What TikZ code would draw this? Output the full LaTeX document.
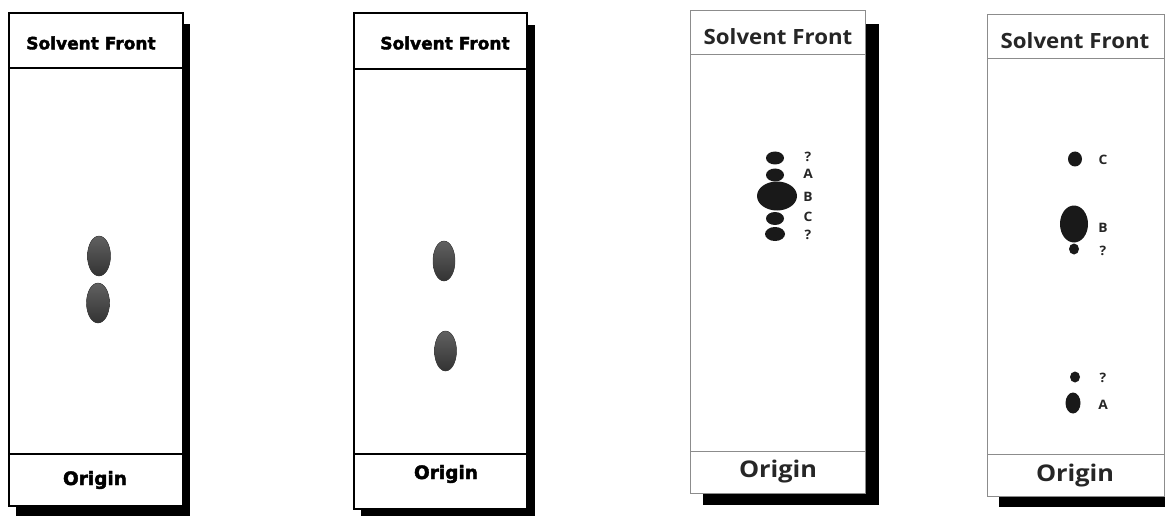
\documentclass[tikz,border=0pt]{standalone}
\usepackage{fontspec}
\newfontfamily\heavyfont{DejaVu Sans}[BoldFeatures={FakeBold=2.2}]
\newfontfamily\platefont{Open Sans}[FakeStretch=1.06]
\newfontfamily\widefont{Open Sans}[FakeStretch=1.1]
\begin{document}
\begin{tikzpicture}[x=1pt,y=-1pt]
\tikzset{
  oldplate/.style={draw=black, line width=1.4pt, fill=white},
  newplate/.style={draw=black!45, line width=1pt, fill=white},
  shadowbox/.style={fill=black},
  oldtitle/.style={font=\heavyfont\bfseries\fontsize{17}{17}\selectfont, inner sep=0pt},
  oldorigin/.style={font=\heavyfont\bfseries\fontsize{18.5}{18.5}\selectfont, inner sep=0pt},
  newtitle/.style={font=\platefont\bfseries\fontsize{21}{21}\selectfont, inner sep=0pt, text=black!85},
  neworigin/.style={font=\widefont\bfseries\fontsize{23}{23}\selectfont, inner sep=0pt, text=black!85},
  spotlabel/.style={font=\platefont\bfseries\fontsize{13}{13}\selectfont, inner sep=0pt, text=black!85},
  oldspot/.style={top color=black!62, bottom color=black!80, draw=black!75, line width=0.4pt},
  newspot/.style={fill=black!90},
}
\useasboundingbox (0,0) rectangle (1165,516);
\clip (0,0) rectangle (1165,516);

% ---- plate 1 ----
\fill[shadowbox] (16,24) rectangle (190,517);
\draw[oldplate] (9,13) rectangle (183,506);
\draw[line width=1.4pt] (9,68) -- (183,68);
\draw[line width=1.4pt] (9,454) -- (183,454);
\node[oldtitle] (front1) at (91,43) {Solvent Front};
\node[oldorigin] (origin1) at (95,480) {Origin};
\fill[oldspot] (99,256) ellipse [x radius=11.5pt, y radius=20pt];
\fill[oldspot] (98,303) ellipse [x radius=11.5pt, y radius=20pt];

% ---- plate 2 ----
\fill[shadowbox] (361,25) rectangle (535,518);
\draw[oldplate] (354,13) rectangle (527,509);
\draw[line width=1.4pt] (354,69) -- (527,69);
\draw[line width=1.4pt] (354,454) -- (527,454);
\node[oldtitle] (front2) at (445,43) {Solvent Front};
\node[oldorigin] (origin2) at (446,474) {Origin};
\fill[oldspot] (444,261) ellipse [x radius=11pt, y radius=20pt];
\fill[oldspot] (445.5,351) ellipse [x radius=11pt, y radius=20pt];

% ---- plate 3 ----
\fill[shadowbox] (703,24) rectangle (879,505);
\draw[newplate] (690,11) rectangle (865,493);
\draw[draw=black!45, line width=1pt] (690,55) -- (865,55);
\draw[draw=black!45, line width=1pt] (690,451) -- (865,451);
\node[newtitle] (front3) at (778,37) {Solvent Front};
\node[neworigin] (origin3) at (778,472) {Origin};
\fill[newspot] (775,158) ellipse [x radius=9pt, y radius=6.5pt];
\fill[newspot] (775,175) ellipse [x radius=9pt, y radius=6.5pt];
\fill[newspot] (777,196) ellipse [x radius=20pt, y radius=14.5pt];
\fill[newspot] (775,218.5) ellipse [x radius=9pt, y radius=6.5pt];
\fill[newspot] (775,234) ellipse [x radius=10pt, y radius=7pt];
\node[spotlabel] (q3a) at (808,157) {?};
\node[spotlabel] (a3) at (808,174) {A};
\node[spotlabel] (b3) at (808,197) {B};
\node[spotlabel] (c3) at (808,217) {C};
\node[spotlabel] (q3b) at (808,235) {?};

% ---- plate 4 ----
\fill[shadowbox] (999,27) rectangle (1176,507);
\draw[newplate] (987,15) rectangle (1164,496);
\draw[draw=black!45, line width=1pt] (987,59) -- (1164,59);
\draw[draw=black!45, line width=1pt] (987,454) -- (1164,454);
\node[newtitle] (front4) at (1075,41) {Solvent Front};
\node[neworigin] (origin4) at (1075,476) {Origin};
\fill[newspot] (1075,159) ellipse [x radius=7pt, y radius=7.5pt];
\fill[newspot] (1074,224) ellipse [x radius=14pt, y radius=18.5pt];
\fill[newspot] (1074,249) ellipse [x radius=5pt, y radius=5.5pt];
\fill[newspot] (1075,377) ellipse [x radius=5pt, y radius=5.5pt];
\fill[newspot] (1073,403) ellipse [x radius=7.5pt, y radius=10.5pt];
\node[spotlabel] (c4) at (1103,160) {C};
\node[spotlabel] (b4) at (1103,228) {B};
\node[spotlabel] (q4a) at (1103,251) {?};
\node[spotlabel] (q4b) at (1103,378) {?};
\node[spotlabel] (a4) at (1103,405) {A};
\end{tikzpicture}
\end{document}
